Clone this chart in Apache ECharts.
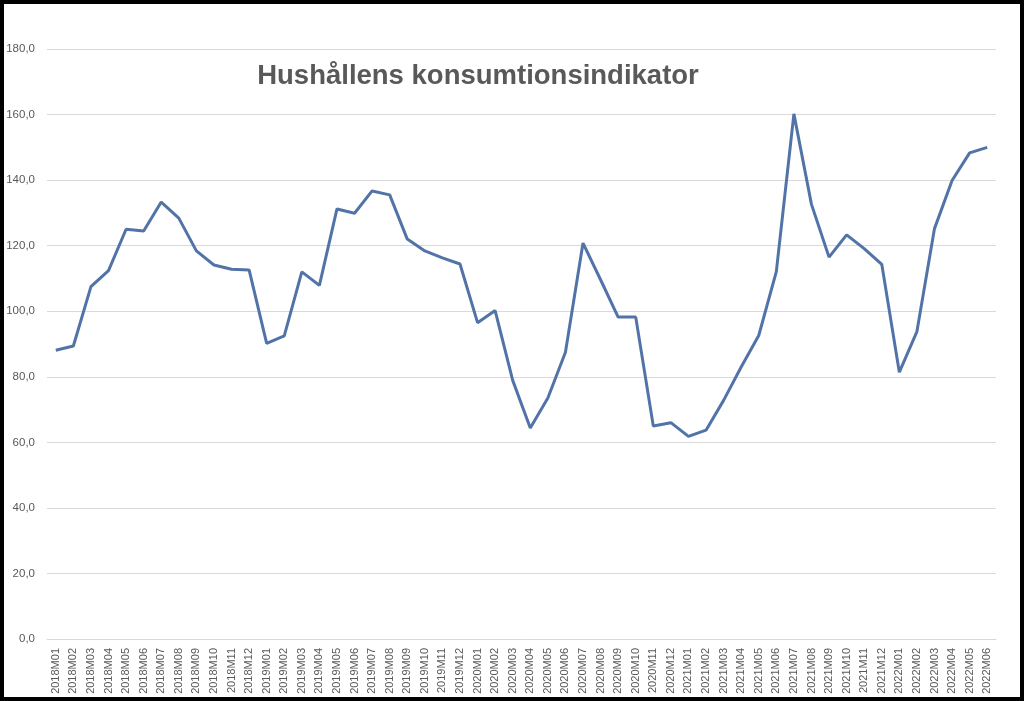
<!DOCTYPE html>
<html>
<head>
<meta charset="utf-8">
<script src="https://cdn.jsdelivr.net/npm/echarts@6/dist/echarts.min.js"></script>
<style>
html,body{margin:0;padding:0;background:#fff;}
#chart{width:1024px;height:701px;}
</style>
</head>
<body>
<div id="chart"></div>
<script>
const categories = [
  "2018M01","2018M02","2018M03","2018M04","2018M05","2018M06","2018M07","2018M08","2018M09","2018M10","2018M11","2018M12",
  "2019M01","2019M02","2019M03","2019M04","2019M05","2019M06","2019M07","2019M08","2019M09","2019M10","2019M11","2019M12",
  "2020M01","2020M02","2020M03","2020M04","2020M05","2020M06","2020M07","2020M08","2020M09","2020M10","2020M11","2020M12",
  "2021M01","2021M02","2021M03","2021M04","2021M05","2021M06","2021M07","2021M08","2021M09","2021M10","2021M11","2021M12",
  "2022M01","2022M02","2022M03","2022M04","2022M05","2022M06"
];
const values = [
  88.1, 89.4, 107.5, 112.4, 125.0, 124.5, 133.3, 128.4, 118.4, 114.1, 112.8, 112.6,
  90.2, 92.5, 112.0, 107.9, 131.2, 129.9, 136.7, 135.5, 122.0, 118.4, 116.3, 114.4,
  96.5, 100.2, 78.9, 64.4, 73.5, 87.5, 120.8, 109.6, 98.2, 98.2, 65.0, 66.0,
  61.8, 63.7, 72.8, 83.0, 92.6, 112.1, 160.2, 132.6, 116.5, 123.3, 119.1, 114.3,
  81.4, 93.8, 125.2, 139.9, 148.3, 150.0
];
const titleText = "Hushållens konsumtionsindikator";

const chart = echarts.init(document.getElementById('chart'), null, {renderer: 'canvas'});
chart.setOption({
  animation: false,
  backgroundColor: '#ffffff',
  title: {
    text: titleText,
    left: 473,
    textAlign: 'center',
    top: 57,
    textStyle: {
      fontFamily: 'Liberation Sans, Arial, sans-serif',
      fontWeight: 'bold',
      fontSize: 27.5,
      color: '#595959'
    }
  },
  grid: {left: 47, right: 28, top: 49, bottom: 62, containLabel: false},
  xAxis: {
    type: 'category',
    data: categories,
    boundaryGap: true,
    axisLine: {show: true, lineStyle: {color: '#d9d9d9', width: 1}},
    axisTick: {show: false},
    axisLabel: {
      rotate: 90,
      interval: 0,
      margin: 9,
      fontSize: 11,
      fontFamily: 'Liberation Sans, Arial, sans-serif',
      color: '#595959'
    },
    splitLine: {show: false}
  },
  yAxis: {
    type: 'value',
    min: 0,
    max: 180,
    interval: 20,
    axisLine: {show: false},
    axisTick: {show: false},
    axisLabel: {
      margin: 12,
      fontSize: 11.5,
      fontFamily: 'Liberation Sans, Arial, sans-serif',
      color: '#595959',
      formatter: v => v.toFixed(1).replace('.', ',')
    },
    splitLine: {lineStyle: {color: '#d9d9d9', width: 1}}
  },
  series: [{
    type: 'line',
    data: values,
    symbol: 'none',
    lineStyle: {color: '#5273a8', width: 3},
    itemStyle: {color: '#5273a8'}
  }],
  graphic: [{
    type: 'rect',
    shape: {x: 2, y: 2, width: 1020, height: 697},
    style: {fill: 'none', stroke: '#000000', lineWidth: 4},
    z: 100
  }]
});
</script>
</body>
</html>
